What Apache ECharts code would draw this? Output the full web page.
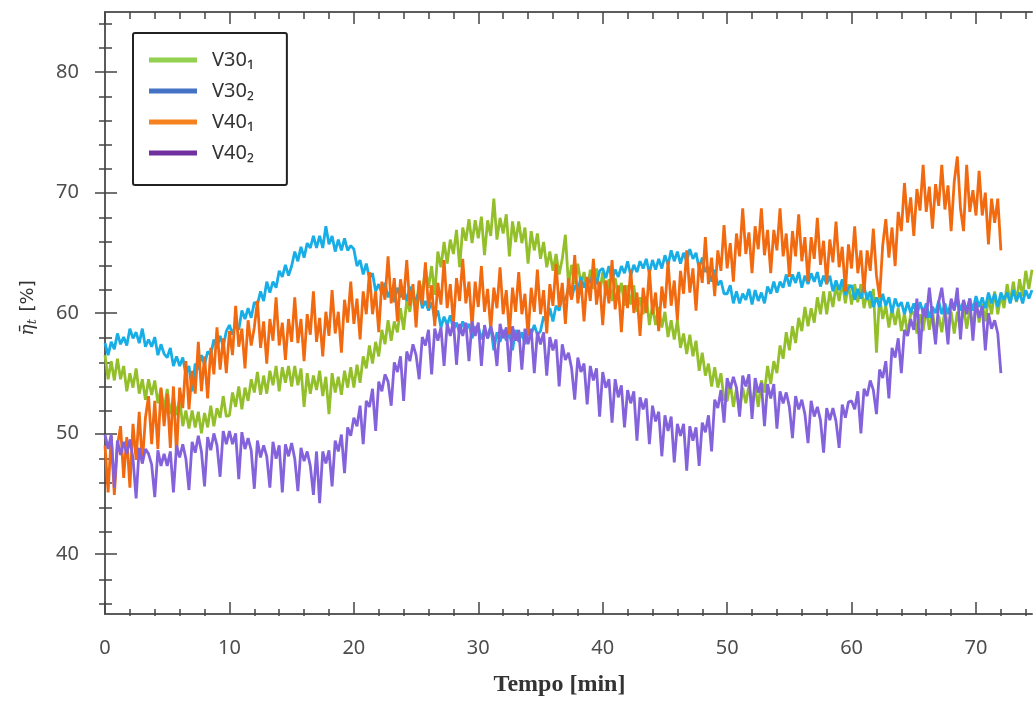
<!DOCTYPE html>
<html>
<head>
<meta charset="utf-8">
<script src="https://cdn.jsdelivr.net/npm/echarts@6/dist/echarts.min.js"></script>
<style>
html,body{margin:0;padding:0;background:#fff;}
#chart{width:1035px;height:702px;}
</style>
</head>
<body>
<div id="chart"></div>
<script>
// time step between samples (min)
const T_STEP = 0.25;

const seriesNames = ['V30\u2081', 'V30\u2082', 'V40\u2081', 'V40\u2082'];

const v30_1 = [
56.5,54.5,56.0,54.4,56.2,54.5,55.6,53.5,55.0,53.8,55.4,53.3,54.5,52.8,54.5,53.2,54.4,52.5,53.7,51.9,
53.7,51.6,53.0,51.5,52.9,50.6,51.9,50.4,51.9,50.5,51.8,50.0,51.7,50.5,52.3,50.6,52.1,51.3,53.1,51.4,
51.5,53.4,52.2,53.9,52.0,53.8,52.7,54.5,53.4,55.1,53.2,54.8,53.3,55.2,54.0,55.6,53.5,55.5,54.2,55.6,
53.9,55.6,54.0,55.4,52.2,55.0,53.3,54.8,53.6,55.2,53.1,54.7,51.6,55.0,53.4,54.7,53.2,55.2,53.8,55.5,
53.8,55.7,54.2,56.4,55.4,57.3,55.8,57.6,56.4,58.6,57.4,59.4,57.7,59.3,58.4,60.4,58.6,61.0,60.1,61.9,
60.4,62.6,61.6,63.7,62.1,63.9,61.5,65.1,63.8,65.9,64.1,66.1,64.9,66.9,63.8,67.1,66.0,67.8,65.8,67.7,
66.2,68.0,64.8,67.7,66.4,69.5,66.1,67.9,66.6,68.2,64.7,67.6,65.9,67.6,65.8,67.1,64.1,66.8,65.2,66.6,
64.5,65.9,63.8,65.1,63.5,64.9,63.2,64.5,66.5,62.3,64.0,62.4,64.1,62.4,63.4,61.8,63.6,62.0,63.7,61.6,
63.4,61.5,62.8,61.0,62.9,61.4,62.5,60.6,62.3,60.7,62.3,60.1,61.3,59.9,61.4,59.0,60.6,59.0,60.5,58.8,
60.1,58.0,59.4,57.8,59.4,57.1,58.3,56.6,58.2,56.4,57.7,55.2,56.7,54.8,55.8,53.9,55.5,53.8,55.0,52.8,
52.7,54.2,52.2,53.7,51.9,53.8,52.5,54.0,52.3,53.8,52.2,54.4,53.4,55.6,54.1,56.0,55.0,57.3,56.2,58.4,
56.9,58.9,57.5,59.6,58.5,60.5,58.9,60.4,59.2,61.3,59.9,61.8,59.9,61.8,60.5,62.3,61.0,62.6,60.8,62.4,
60.7,62.4,60.9,62.4,60.4,61.7,60.4,62.0,56.7,61.4,59.5,60.6,58.8,60.4,59.0,60.4,58.5,60.0,58.2,59.9,
60.1,58.3,59.9,58.5,60.4,58.6,60.2,58.2,59.8,58.4,60.3,58.7,60.1,58.3,60.1,58.6,60.6,58.7,60.3,58.8,
60.9,59.2,60.8,59.3,61.3,59.9,61.8,59.9,61.5,60.4,62.4,60.9,62.6,60.9,62.8,61.4,63.5,62.0,63.6
];

const v30_2 = [
57.5,56.5,57.6,57.0,58.3,57.4,58.0,57.3,58.7,57.9,58.4,57.5,58.7,57.2,57.8,57.2,58.0,56.5,57.4,56.6,
56.3,57.1,55.6,56.4,55.6,56.3,54.9,55.6,53.5,55.8,55.3,56.5,55.7,56.8,56.5,57.8,57.1,58.1,57.2,58.5,
59.0,58.2,59.1,58.6,60.2,59.5,60.4,59.6,60.9,60.7,61.8,61.0,62.6,61.7,62.6,62.1,63.5,63.0,64.0,63.1,
63.9,65.1,64.3,65.5,64.6,65.8,65.4,66.4,65.4,66.4,65.4,67.2,65.7,66.4,65.1,66.1,65.2,66.2,65.2,65.6,
65.3,63.9,64.4,63.2,64.1,62.9,63.3,61.8,62.4,61.6,62.5,61.3,62.0,60.9,62.1,61.3,62.0,61.0,62.2,61.3,
61.1,61.8,60.4,61.0,60.2,60.9,59.5,60.2,58.8,59.7,59.0,59.8,58.6,59.2,58.3,59.3,58.6,59.1,57.9,58.8,
58.9,57.8,58.7,57.9,58.9,56.9,58.4,57.6,58.6,57.7,58.4,56.9,58.6,57.6,58.4,57.4,58.7,58.2,59.0,58.2,
58.5,59.7,59.3,60.4,59.3,60.6,60.2,61.4,61.0,62.2,61.2,62.3,61.8,63.0,62.1,62.9,62.5,63.4,62.4,63.5,
63.7,62.9,63.9,62.7,63.6,63.0,63.9,63.3,64.3,63.1,64.0,63.4,64.3,63.7,64.5,63.3,64.4,63.6,64.5,63.7,
64.8,64.0,65.2,64.3,65.1,64.1,65.0,64.3,65.3,64.5,65.0,63.7,64.6,63.4,63.8,62.6,63.6,62.3,62.7,61.6,
61.6,62.3,60.8,61.8,60.8,61.6,61.1,62.0,60.7,61.9,61.0,61.7,60.8,62.2,61.6,62.6,61.7,62.6,62.1,63.2,
62.2,63.2,62.5,63.4,62.1,63.1,62.4,63.3,62.6,63.4,62.2,63.1,62.4,63.1,61.8,62.7,61.9,62.8,61.5,62.1,
62.3,61.1,62.0,61.2,62.2,61.1,61.8,60.5,61.3,60.5,61.6,60.6,61.3,60.0,61.2,60.5,60.9,59.9,60.9,60.0,
60.8,59.8,60.9,60.0,60.8,59.6,60.5,60.0,61.0,59.9,60.8,59.9,61.0,60.3,61.3,60.2,61.0,60.2,61.2,60.2,
61.4,60.5,61.3,60.4,61.7,60.8,61.6,60.5,61.7,61.1,61.7,60.8,61.9,61.0,61.7,60.8,61.9,61.2,61.9
];

const v40_1 = [
49.0,45.1,49.8,44.9,49.0,50.6,46.3,49.7,45.5,50.8,47.8,51.8,47.5,51.3,53.1,49.1,52.7,48.7,53.8,50.6,
53.3,48.8,53.9,48.2,53.8,52.1,56.0,52.0,55.2,53.3,57.6,53.5,56.4,52.9,57.1,54.9,58.8,55.3,57.9,55.0,
58.5,56.5,60.6,57.2,58.7,55.4,59.4,57.3,58.8,61.0,57.1,59.3,55.8,59.5,57.7,61.3,57.3,59.2,56.1,59.5,
57.6,61.3,57.5,59.5,56.0,59.9,58.2,61.8,57.6,59.6,56.4,60.1,58.1,61.9,58.3,60.1,56.7,61.1,59.2,62.6,
59.1,61.2,57.8,61.8,59.9,63.4,59.9,61.8,58.4,62.6,61.1,64.7,60.8,62.9,59.3,62.8,61.1,64.4,60.6,62.4,
58.8,62.7,60.7,64.2,60.4,62.3,58.9,62.5,60.7,64.4,60.4,62.4,59.1,62.9,61.0,64.5,60.8,62.6,58.8,62.6,
60.5,63.9,60.1,62.0,58.6,62.1,60.4,63.8,59.9,61.9,58.2,62.1,60.1,63.4,59.9,61.6,58.1,62.1,60.1,63.6,
59.9,61.9,58.3,62.4,60.6,64.1,60.5,62.5,59.1,62.9,61.1,64.8,60.8,62.7,59.3,63.0,61.0,64.5,60.7,62.6,
59.0,62.7,60.8,64.4,60.3,62.3,58.4,62.3,60.4,63.6,60.0,61.7,58.1,62.1,60.0,63.6,59.9,61.7,58.5,62.2,
60.4,64.3,60.6,62.7,59.4,63.5,61.6,65.2,61.7,63.7,60.2,64.2,62.5,66.3,62.4,64.6,61.4,65.2,63.5,67.3,
63.7,65.8,62.6,66.6,64.7,68.7,64.9,66.7,63.3,67.2,65.3,68.7,64.8,66.9,63.3,66.9,65.2,68.7,64.7,66.6,
63.0,66.8,64.7,68.2,64.3,66.3,62.6,66.3,64.5,67.9,64.0,66.0,62.4,66.1,64.2,67.6,63.8,65.5,61.8,65.7,
63.7,67.2,63.3,65.2,61.7,65.2,63.5,67.0,63.1,61.3,65.6,67.8,64.6,67.1,63.9,68.4,66.8,70.8,67.5,69.6,
66.4,70.3,68.5,72.3,68.4,70.5,67.0,70.7,68.9,72.3,68.6,70.6,66.8,70.9,73.0,68.7,66.8,72.3,68.4,70.2,
68.1,71.8,68.1,70.0,65.7,69.5,67.5,69.5,65.2
];

const v40_2 = [
49.9,48.7,49.9,45.5,49.4,48.2,49.3,48.3,49.5,47.9,44.6,48.8,47.5,48.7,48.3,47.4,44.7,48.6,47.3,48.3,
47.3,48.5,45.1,49.0,48.0,49.1,47.9,45.3,49.3,48.4,49.8,48.5,45.6,49.7,48.6,50.0,49.0,46.4,50.2,49.1,
50.2,49.1,50.0,46.2,50.1,48.7,49.6,48.6,45.4,49.4,48.0,49.0,48.1,45.5,49.3,47.9,49.0,45.1,49.1,48.1,
49.2,47.9,45.2,48.8,47.7,48.5,47.3,44.9,48.5,44.2,48.5,47.5,48.6,45.6,49.4,48.5,49.9,46.7,50.5,49.8,
51.3,50.6,52.3,49.1,52.7,52.2,53.7,50.2,54.3,53.5,54.9,54.3,52.3,55.9,55.1,56.4,52.7,56.8,56.0,57.4,
56.5,54.5,58.0,57.3,58.6,54.9,58.7,57.7,58.8,55.6,59.1,58.1,59.3,55.7,59.1,58.1,59.2,56.0,59.3,58.1,
59.2,55.6,59.0,57.9,58.9,57.9,55.6,59.1,57.9,58.8,55.1,58.9,57.7,58.6,55.3,58.7,57.4,58.7,55.0,58.4,
57.4,58.4,54.8,58.0,56.9,57.8,53.9,57.4,56.1,56.7,55.4,52.8,56.3,55.1,55.8,52.4,55.6,54.4,55.4,51.4,
55.1,53.8,54.5,50.9,54.5,53.0,54.0,50.5,53.6,52.5,53.5,49.4,53.0,52.0,52.9,49.1,52.3,51.0,51.8,48.1,
51.5,50.2,51.4,47.6,50.8,49.8,50.8,46.9,50.6,49.4,50.5,47.3,50.9,50.1,51.5,48.5,52.8,52.1,53.6,50.9,
54.6,53.7,54.7,53.8,51.4,54.8,53.9,54.9,51.2,54.6,53.4,54.2,50.6,54.1,52.9,54.1,50.4,53.5,52.5,53.4,
52.2,49.6,53.1,52.0,52.8,51.6,49.2,52.7,51.4,52.2,51.1,48.4,52.1,51.1,52.1,51.0,48.8,52.4,51.3,52.6,
52.7,52.0,53.5,50.0,53.7,53.1,54.4,53.6,51.6,55.3,54.6,56.0,52.9,57.1,56.3,57.9,55.0,58.6,58.1,59.5,
58.6,61.2,56.6,60.4,59.6,62.1,59.6,57.4,60.9,62.1,60.0,57.4,61.2,60.2,62.1,57.8,61.1,59.9,61.2,57.7,
60.9,59.6,60.6,56.9,60.0,58.7,59.4,58.3,55.0
];

const xMajor = [0, 10, 20, 30, 40, 50, 60, 70];
const xMinor = [2,4,6,8,12,14,16,18,22,24,26,28,32,34,36,38,42,44,46,48,52,54,56,58,62,64,66,68,72,74];
const yMajor = [40, 50, 60, 70, 80];
const yMinor = [36,38,42,44,46,48,52,54,56,58,62,64,66,68,72,74,76,78,82,84];

const lineColors = ['#93c02a', '#17ade6', '#f26a10', '#8462db'];
const legendColors = ['#92d050', '#4472c4', '#f5821f', '#7030a0'];

const X_MIN = 0, X_MAX = 74.5, Y_MIN = 35, Y_MAX = 85;

function toPairs(arr) { return arr.map((v, i) => [i * T_STEP, v]); }

const frame = { show: true, lineStyle: { color: '#5c5c5c', width: 2 } };
const labelFont = { fontFamily: 'Noto Sans', fontSize: 20, color: '#4d4d4d' };
const gridRect = { left: 105, right: 3, top: 12, bottom: 86, containLabel: false };

function xAx(grid, pos, ticks, len, labels, withLine) {
  return {
    gridIndex: grid, type: 'value', position: pos, min: X_MIN, max: X_MAX,
    axisLine: withLine ? frame : { show: false },
    axisTick: { show: true, inside: true, length: len, customValues: ticks, lineStyle: { color: '#444', width: 1.5 } },
    axisLabel: labels ? Object.assign({ show: true, customValues: ticks, margin: 24 }, labelFont) : { show: false },
    splitLine: { show: false }
  };
}
function yAx(grid, pos, ticks, len, labels, withLine) {
  return {
    gridIndex: grid, type: 'value', position: pos, min: Y_MIN, max: Y_MAX,
    axisLine: withLine ? frame : { show: false },
    axisTick: { show: true, inside: true, length: len, customValues: ticks, lineStyle: { color: '#444', width: 1.5 } },
    axisLabel: labels ? Object.assign({ show: true, customValues: ticks, margin: 26 }, labelFont) : { show: false },
    splitLine: { show: false }
  };
}

// grid 0: frame + major ticks, grid 1 (same rectangle): minor ticks
const xAxes = [
  xAx(0, 'bottom', xMajor, 12, true, true),
  xAx(0, 'top', xMajor, 12, false, true),
  xAx(1, 'bottom', xMinor, 7, false, false),
  xAx(1, 'top', xMinor, 7, false, false)
];
xAxes[0].name = 'Tempo [min]';
xAxes[0].nameLocation = 'middle';
xAxes[0].nameGap = 59;
xAxes[0].nameTextStyle = { fontFamily: 'Liberation Serif', fontSize: 24, fontWeight: 'bold', color: '#333', padding: [0, 18, 0, 0] };

const yAxes = [
  yAx(0, 'left', yMajor, 12, true, true),
  yAx(0, 'right', yMajor, 10, false, true),
  yAx(1, 'left', yMinor, 7, false, false),
  yAx(1, 'right', yMinor, 6, false, false)
];
yAxes[0].name = '{a|\u03b7\u0304}{b|t} [%]';
yAxes[0].nameLocation = 'middle';
yAxes[0].nameRotate = 90;
yAxes[0].nameGap = 66;
yAxes[0].nameTextStyle = {
  fontFamily: 'DejaVu Sans', fontSize: 18, color: '#333', padding: [0, 0, 0, 10],
  rich: {
    a: { fontFamily: 'DejaVu Serif', fontStyle: 'italic', fontSize: 19, color: '#333' },
    b: { fontFamily: 'DejaVu Serif', fontStyle: 'italic', fontSize: 13, color: '#333', padding: [8, 2, 0, 0] }
  }
};

const dataSets = [v30_1, v30_2, v40_1, v40_2];

const option = {
  animation: false,
  backgroundColor: '#ffffff',
  grid: [Object.assign({}, gridRect), Object.assign({}, gridRect)],
  legend: {
    orient: 'vertical', left: 133, top: 33,
    padding: [17, 33, 22, 16],
    itemWidth: 48, itemHeight: 5, itemGap: 11, icon: 'rect',
    borderColor: '#222', borderWidth: 2, borderRadius: 2,
    backgroundColor: '#ffffff',
    textStyle: { fontFamily: 'Noto Sans', fontSize: 20, color: '#333', lineHeight: 20, padding: [0, 0, 0, 10] },
    data: seriesNames.map((n, i) => ({ name: n, itemStyle: { color: legendColors[i] } }))
  },
  xAxis: xAxes,
  yAxis: yAxes,
  series: dataSets.map((arr, i) => ({
    name: seriesNames[i],
    type: 'line',
    xAxisIndex: 0, yAxisIndex: 0,
    data: toPairs(arr),
    showSymbol: false, symbol: 'none',
    color: lineColors[i],
    lineStyle: { color: lineColors[i], width: 2.8, join: 'bevel' },
    emphasis: { disabled: true },
    silent: true
  }))
};

const chart = echarts.init(document.getElementById('chart'), null, { renderer: 'canvas' });
chart.setOption(option);
</script>
</body>
</html>
